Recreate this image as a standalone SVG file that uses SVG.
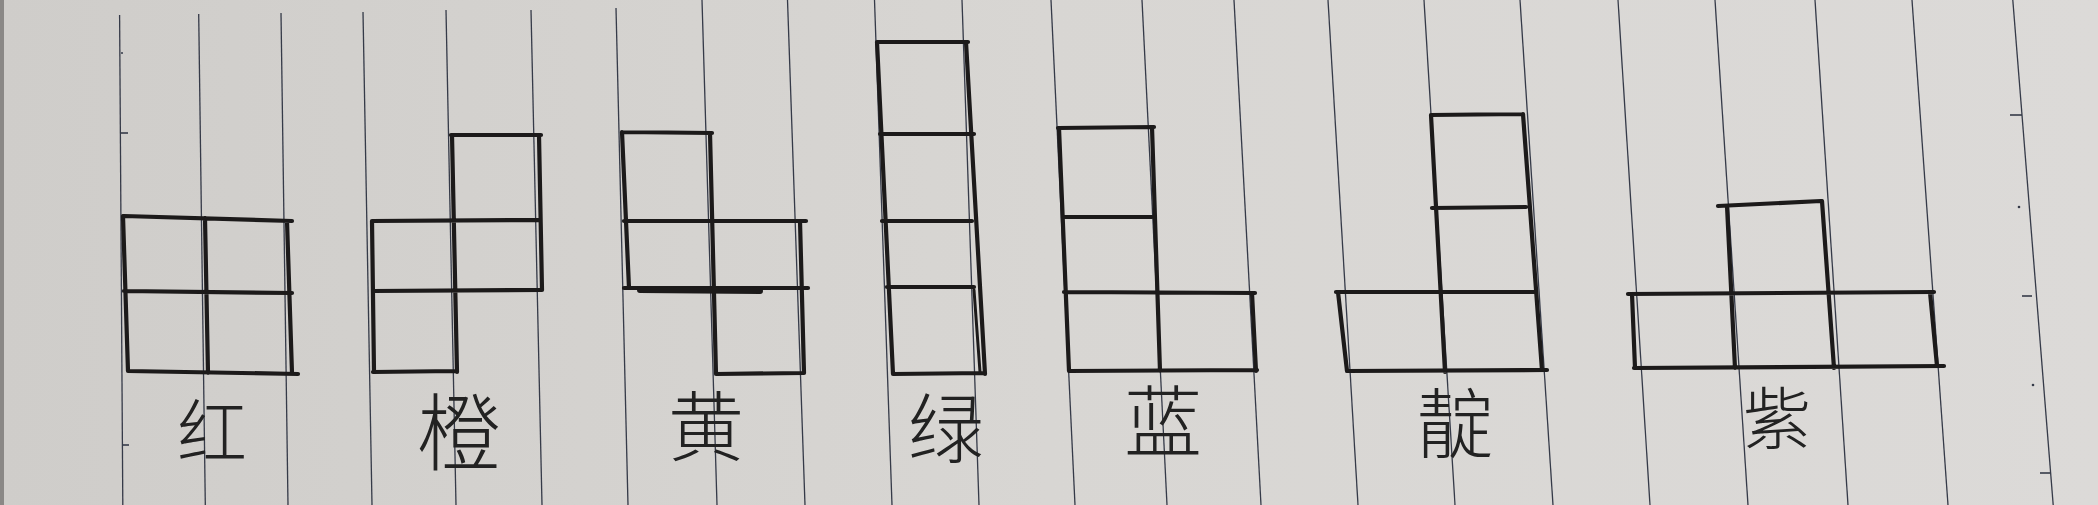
<svg xmlns="http://www.w3.org/2000/svg" width="2098" height="505" viewBox="0 0 2098 505">
<defs>
<linearGradient id="paper" x1="0" y1="0" x2="1" y2="0">
<stop offset="0" stop-color="#cfcdca"/>
<stop offset="0.5" stop-color="#d8d6d3"/>
<stop offset="1" stop-color="#dcdad8"/>
</linearGradient>
</defs>
<style>
.rule{stroke:#353a48;stroke-width:1.3;fill:none}
.tick{stroke:#353a48;stroke-width:1.6;fill:none}
.pen{stroke:#1c1a1a;stroke-width:4.2;fill:none;stroke-linecap:round;stroke-linejoin:round}
.lbl{font-family:"Noto Sans CJK SC","Noto Sans CJK TC",sans-serif;font-size:70px;fill:#222;text-anchor:middle;font-weight:300}
</style>
<rect width="2098" height="505" fill="url(#paper)"/>
<rect width="4" height="505" fill="#8a8886"/>
<g id="paper-rules">
<line class="rule" x1="119.6" y1="15" x2="122.8" y2="505"/>
<line class="rule" x1="198.7" y1="14" x2="205.3" y2="505"/>
<line class="rule" x1="281" y1="13" x2="288" y2="505"/>
<line class="rule" x1="363" y1="12" x2="372" y2="505"/>
<line class="rule" x1="446" y1="10" x2="456" y2="505"/>
<line class="rule" x1="531" y1="10" x2="542" y2="505"/>
<line class="rule" x1="616" y1="8" x2="628" y2="505"/>
<line class="rule" x1="702" y1="0" x2="717" y2="505"/>
<line class="rule" x1="787.5" y1="0" x2="805" y2="505"/>
<line class="rule" x1="874.5" y1="0" x2="892" y2="505"/>
<line class="rule" x1="962" y1="0" x2="979" y2="505"/>
<line class="rule" x1="1051" y1="0" x2="1075" y2="505"/>
<line class="rule" x1="1142" y1="0" x2="1167" y2="505"/>
<line class="rule" x1="1234" y1="0" x2="1261" y2="505"/>
<line class="rule" x1="1328" y1="0" x2="1358" y2="505"/>
<line class="rule" x1="1424" y1="0" x2="1455" y2="505"/>
<line class="rule" x1="1520" y1="0" x2="1553" y2="505"/>
<line class="rule" x1="1618" y1="0" x2="1650" y2="505"/>
<line class="rule" x1="1715" y1="0" x2="1748" y2="505"/>
<line class="rule" x1="1815" y1="0" x2="1848" y2="505"/>
<line class="rule" x1="1912" y1="0" x2="1948" y2="505"/>
<line class="rule" x1="2012.8" y1="0" x2="2053.2" y2="505"/>
<line class="tick" x1="121" y1="133" x2="128" y2="133"/>
<line class="tick" x1="122" y1="445" x2="129" y2="445"/>
<line class="tick" x1="2010" y1="115" x2="2022" y2="115"/>
<line class="tick" x1="2022" y1="296" x2="2032" y2="296"/>
<line class="tick" x1="2040" y1="473" x2="2050" y2="473"/>
<circle cx="2019" cy="207" r="1.3" fill="#353a48"/>
<circle cx="2033" cy="385" r="1.3" fill="#353a48"/>
<circle cx="122" cy="53" r="1" fill="#353a48"/>
</g>
<g id="red">
<path class="pen" d="M124,216 L292,221 M124,291 L292,293 M128,371 L298,374 M123,216 L128,371 M205,218 L208,373 M287,221 L292,373"/>
<text class="lbl" x="212" y="458">红</text>
</g>
<g id="orange">
<path class="pen" d="M451,135 L541,135 M372,221 L539,220 M373,291 L541,290 M373,372 L456,371 M372,221 L374,372 M452,135 L457,372 M539,135 L542,290"/>
<text class="lbl" x="459" y="464" style="font-size:84px">橙</text>
</g>
<g id="yellow">
<path class="pen" d="M622,132 L712,133 M624,221 L806,221 M624,288 L808,288 M716,374 L804,373 M622,132 L629,288 M710,133 L716,374 M800,221 L804,373"/>
<path class="pen" d="M640,290 L760,291" style="stroke-width:6"/>
<text class="lbl" x="706" y="455" style="font-size:76px">黄</text>
</g>
<g id="green">
<path class="pen" d="M877,42 L968,42 M880,134 L974,134 M882,221 L972,221 M887,287 L974,287 M893,374 L985,373 M877,42 L893,374 M966,42 L985,374"/>
<path class="pen" d="M974,290 L980,372" style="stroke-width:3"/>
<text class="lbl" x="946" y="457" style="font-size:76px">绿</text>
</g>
<g id="blue">
<path class="pen" d="M1058,128 L1154,127 M1063,217 L1152,217 M1064,292 L1255,293 M1069,371 L1257,370 M1059,128 L1069,371 M1152,127 L1160,371 M1252,293 L1256,371"/>
<text class="lbl" x="1163" y="451" style="font-size:78px">蓝</text>
</g>
<g id="indigo">
<path class="pen" d="M1431,115 L1523,114 M1432,208 L1526,207 M1336,292 L1534,292 M1347,371 L1547,370 M1338,292 L1347,371 M1431,115 L1445,372 M1523,114 L1542,370"/>
<text class="lbl" x="1455" y="452" style="font-size:76px">靛</text>
</g>
<g id="purple">
<path class="pen" d="M1718,206 L1821,201 M1628,294 L1934,292 M1634,368 L1944,366 M1632,294 L1635,368 M1727,206 L1735,368 M1822,201 L1834,368 M1930,292 L1937,366"/>
<text class="lbl" x="1777" y="444" style="font-size:68px">紫</text>
</g>
</svg>
